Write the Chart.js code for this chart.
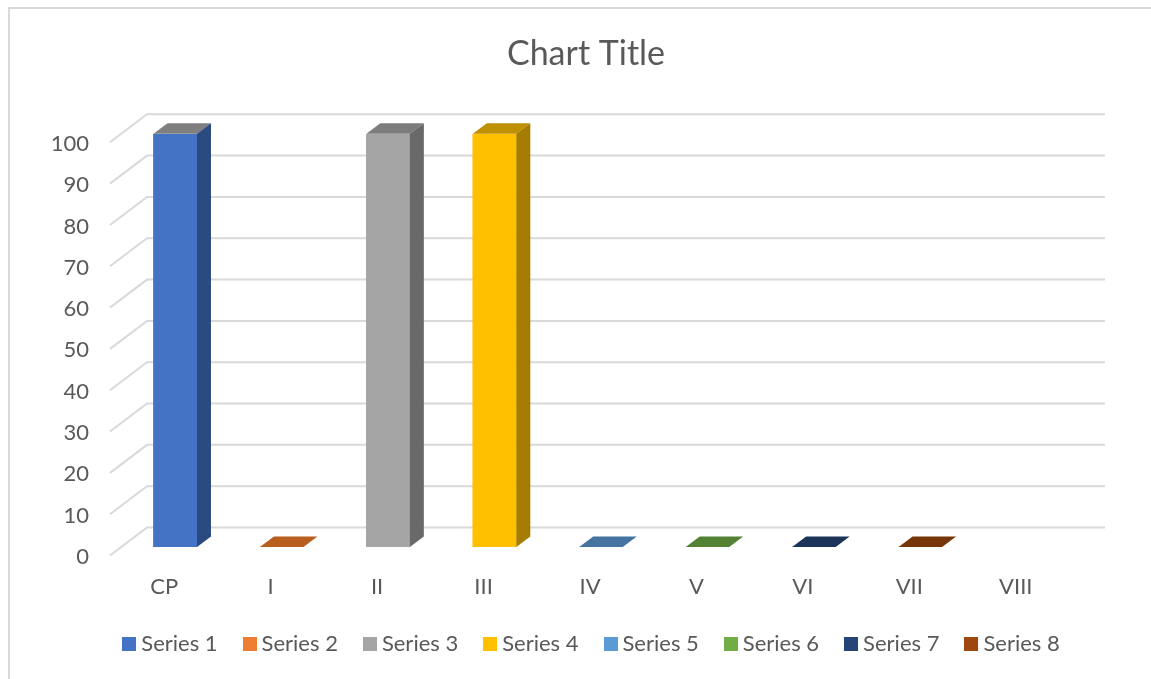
<!DOCTYPE html>
<html><head><meta charset="utf-8">
<style>
html,body{margin:0;padding:0;background:#fff;width:1151px;height:679px;overflow:hidden}
#box{position:absolute;left:8px;top:7px;width:1160px;height:690px;border-left:2px solid #d9d9d9;border-top:2px solid #d9d9d9}
#wrap{position:absolute;left:10px;top:9px;width:1152px;height:656px}
</style>
<script src="https://cdn.jsdelivr.net/npm/chart.js@4"></script>
</head><body><div id="box"></div><div id="wrap"><canvas id="c" width="1152" height="656"></canvas></div>
<script>
const categories = ["CP","I","II","III","IV","V","VI","VII","VIII"];
const seriesNames = ["Series 1","Series 2","Series 3","Series 4","Series 5","Series 6","Series 7","Series 8"];
const series1 = [100,null,null,null,null,null,null,null,null];
const series2 = [null,0,null,null,null,null,null,null,null];
const series3 = [null,null,100,null,null,null,null,null,null];
const series4 = [null,null,null,100,null,null,null,null,null];
const series5 = [null,null,null,null,0,null,null,null,null];
const series6 = [null,null,null,null,null,0,null,null,null];
const series7 = [null,null,null,null,null,null,0,null,null];
const series8 = [null,null,null,null,null,null,null,0,null];
const frontColors = ["#4472C4","#ED7D31","#A5A5A5","#FFC000","#5B9BD5","#70AD47","#264478","#9E480E"];
const topColors = ["#7F7F7F","#B85F20","#7C7C7C","#BF9000","#44749F","#548235","#1C335A","#76360A"];
const sideColors = ["#2A4A80","#A85518","#696969","#A67C00","#3A6690","#4A7530","#182C50","#6A300A"];
const allSeries = [series1,series2,series3,series4,series5,series6,series7,series8];

const FONT = "Lato, Carlito, Calibri, sans-serif";
const TEXT = "#595959";
const GRID = "#D9D9D9";

function swatch(color){
  const c=document.createElement("canvas");
  c.width=14;c.height=14;
  const g=c.getContext("2d");
  g.fillStyle=color;g.fillRect(0,0,14,14);
  return c;
}

const threeD = {
  id:"threeD",
  afterLayout(chart){
    chart.legend.left+=8; chart.legend.right+=8;
  },
  beforeDatasetsDraw(chart){
    const ctx=chart.ctx, y=chart.scales.y, a=chart.chartArea;
    ctx.save();
    ctx.strokeStyle=GRID; ctx.lineWidth=2;
    y.ticks.forEach(t=>{
      const p=y.getPixelForValue(t.value);
      ctx.beginPath();
      ctx.moveTo(a.left-12,p+8.5);
      ctx.lineTo(a.left+25,p-19.5);
      ctx.lineTo(a.right+25,p-19.5);
      ctx.stroke();
    });
    ctx.restore();
  },
  afterDatasetsDraw(chart){
    const ctx=chart.ctx;
    const dx=14, dy=10.5;
    ctx.save();
    chart.data.datasets.forEach((ds,i)=>{
      chart.getDatasetMeta(i).data.forEach((bar,j)=>{
        if(ds.data[j]===null) return;
        const p=bar.getProps(["x","y","base","width"],true);
        const l=p.x-p.width/2, r=p.x+p.width/2;
        ctx.fillStyle=topColors[i];
        ctx.beginPath();
        ctx.moveTo(l,p.y);ctx.lineTo(l+dx,p.y-dy);ctx.lineTo(r+dx,p.y-dy);ctx.lineTo(r,p.y);
        ctx.closePath();ctx.fill();
        if(p.base-p.y>0.5){
          ctx.fillStyle=sideColors[i];
          ctx.beginPath();
          ctx.moveTo(r,p.y);ctx.lineTo(r+dx,p.y-dy);ctx.lineTo(r+dx,p.base-dy);ctx.lineTo(r,p.base);
          ctx.closePath();ctx.fill();
        }
      });
    });
    ctx.restore();
  }
};

new Chart(document.getElementById("c"),{
  type:"bar",
  data:{
    labels:categories,
    datasets:allSeries.map((d,i)=>({label:seriesNames[i],data:d,backgroundColor:frontColors[i],borderWidth:0,barThickness:43.5}))
  },
  plugins:[threeD],
  options:{
    responsive:false,animation:false,
    layout:{padding:{left:0,right:0,top:0,bottom:0}},
    plugins:{
      tooltip:{enabled:false},
      title:{display:true,text:"Chart Title",color:TEXT,font:{family:FONT,size:34,weight:"normal"},padding:{top:25,bottom:59}},
      legend:{position:"bottom",labels:{color:TEXT,font:{family:FONT,size:22},usePointStyle:true,pointStyleWidth:2,padding:31,
        generateLabels(chart){
          return chart.data.datasets.map((ds,i)=>({text:ds.label,datasetIndex:i,fontColor:TEXT,pointStyle:swatch(frontColors[i]),fillStyle:frontColors[i],lineWidth:0,strokeStyle:"transparent"}));
        }}}
    },
    scales:{
      x:{stacked:true,grid:{display:false},border:{display:false},
        afterFit(s){s.height=55;},
        ticks:{color:TEXT,font:{family:FONT,size:22},labelOffset:-11,padding:19,maxRotation:0,autoSkip:false}},
      y:{stacked:true,min:0,max:100,grid:{display:false,drawTicks:false},border:{display:false},
        afterFit(s){s.width=112;},
        ticks:{color:TEXT,font:{family:FONT,size:22},stepSize:10,labelOffset:10,padding:33}},
      spacer:{position:"right",display:true,grid:{display:false},border:{display:false},ticks:{display:false},
        afterFit(s){s.width=82;}}
    }
  }
});
</script></body></html>
